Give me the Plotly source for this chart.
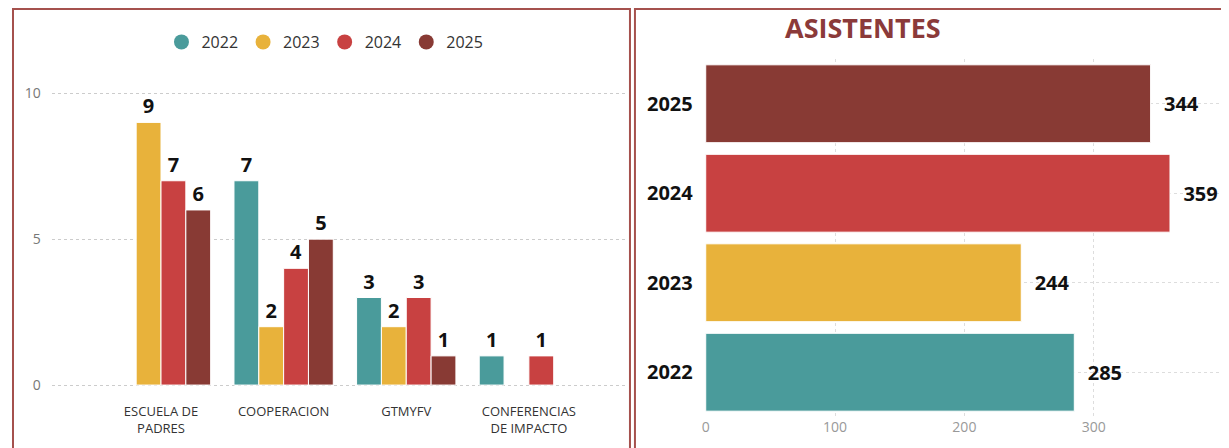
import plotly.graph_objects as go

years = ['2022', '2023', '2024', '2025']
colors = ['#4a9b9b', '#e8b23b', '#c84141', '#883a34']

categories = ['ESCUELA DE<br>PADRES', 'COOPERACION', 'GTMYFV', 'CONFERENCIAS<br>DE IMPACTO']
eventos = {
    '2022': [None, 7, 3, 1],
    '2023': [9, 2, 2, None],
    '2024': [7, 4, 3, 1],
    '2025': [6, 5, 1, None],
}

asistentes = [285, 244, 359, 344]

# the page body adds an 8px margin, so the figure is a bit smaller than the window
OFF = 8
W, H = 1229 - OFF, 448 - OFF


def px(x):
    return (x - OFF) / W


def py(y):
    return 1 - (y - OFF) / H


label_font = dict(family='Open Sans', size=20, color='#111', weight='bold')

fig = go.Figure()

for year, color in zip(years, colors):
    vals = eventos[year]
    fig.add_trace(go.Bar(
        x=categories,
        y=vals,
        name=year,
        marker=dict(color=color, line=dict(color='white', width=1)),
        text=[v if v is not None else '' for v in vals],
        textposition='outside',
        textfont=label_font,
        cliponaxis=False,
        showlegend=False,
        xaxis='x', yaxis='y'
    ))
    # legend entry drawn with a circle
    fig.add_trace(go.Scatter(
        x=[None], y=[None],
        mode='markers',
        name=year,
        marker=dict(color=color, size=15, symbol='circle'),
        xaxis='x', yaxis='y'
    ))

fig.add_trace(go.Bar(
    x=asistentes,
    y=years,
    orientation='h',
    marker=dict(color=colors, line=dict(color='white', width=1)),
    text=asistentes,
    texttemplate='\u00a0\u00a0%{text}',
    textposition='outside',
    textfont=label_font,
    cliponaxis=False,
    showlegend=False,
    width=0.87,
    xaxis='x2', yaxis='y2'
))

fig.update_layout(
    width=W, height=H,
    margin=dict(l=0, r=0, t=0, b=0),
    paper_bgcolor='white',
    plot_bgcolor='white',
    font=dict(family='Open Sans', color='#333'),
    barmode='group',
    bargap=0.19,
    bargroupgap=0,
    legend=dict(
        orientation='h',
        x=px(322), xanchor='center',
        y=py(42), yanchor='middle',
        font=dict(size=16, color='#333'),
        itemwidth=30,
        traceorder='normal'
    ),
    xaxis=dict(
        domain=[px(48), px(625)],
        range=[-0.89, 3.8],
        showgrid=False,
        tickfont=dict(size=13, color='#333'),
        showline=False,
        ticks=''
    ),
    yaxis=dict(
        domain=[py(402), py(64)],
        range=[-0.58, 11],
        tickvals=[0, 5, 10],
        showgrid=True,
        gridcolor='#cccccc',
        griddash='dot',
        zeroline=False,
        tickfont=dict(size=14, color='#777'),
        ticklabelstandoff=10
    ),
    xaxis2=dict(
        domain=[px(704), px(1223)],
        range=[0, 400],
        tickvals=[0, 100, 200, 300],
        showgrid=True,
        gridcolor='#dddddd',
        griddash='dot',
        zeroline=False,
        tickfont=dict(size=14, color='#999'),
        anchor='y2'
    ),
    yaxis2=dict(
        domain=[py(417), py(59)],
        type='category',
        categoryorder='array',
        categoryarray=years,
        showgrid=True,
        gridcolor='#dddddd',
        griddash='dot',
        tickfont=dict(size=20, color='#111', weight='bold'),
        ticklabelstandoff=12,
        anchor='x2'
    ),
    annotations=[dict(
        text='ASISTENTES',
        xref='paper', yref='paper',
        x=px(862), y=py(28),
        xanchor='center', yanchor='middle',
        showarrow=False,
        font=dict(family='Open Sans', size=27, color='#8b3a3a', weight='bold')
    )],
    shapes=[
        dict(type='rect', xref='paper', yref='paper',
             x0=px(9), x1=px(628), y0=-0.02, y1=py(9),
             line=dict(color='#a5514d', width=2)),
        dict(type='rect', xref='paper', yref='paper',
             x0=px(633), x1=1.01, y0=-0.02, y1=py(9),
             line=dict(color='#a5514d', width=2)),
    ]
)

fig.write_html('out.html')
